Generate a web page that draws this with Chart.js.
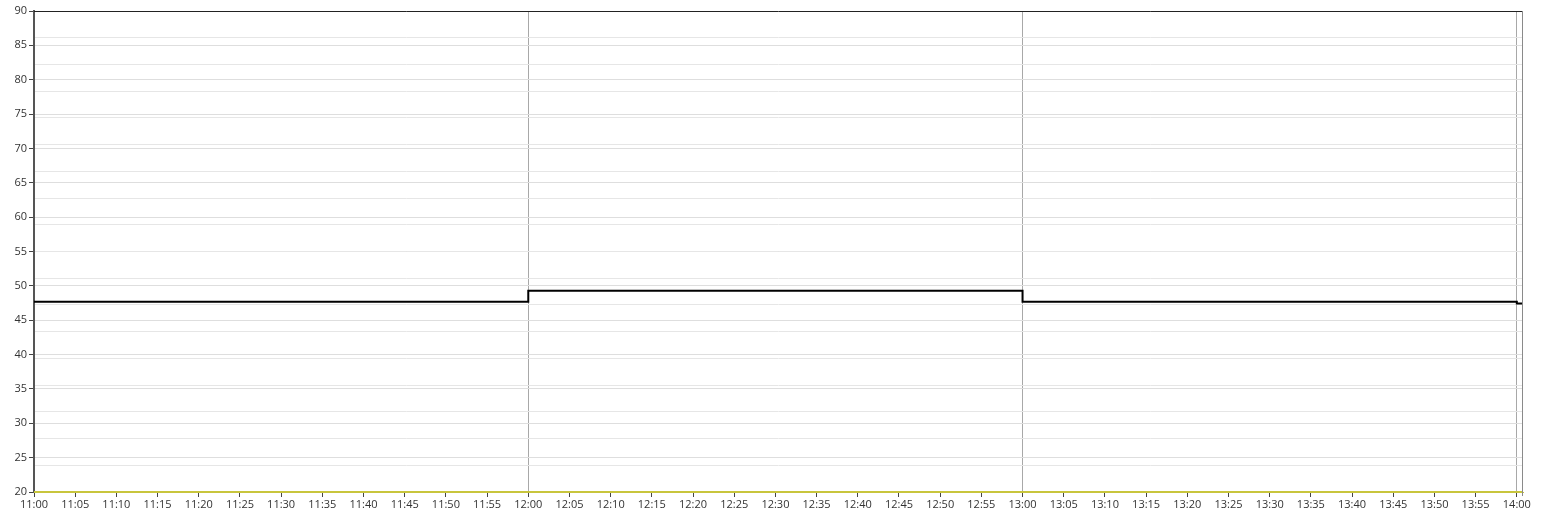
<!DOCTYPE html>
<html>
<head>
<meta charset="utf-8">
<script src="https://cdn.jsdelivr.net/npm/chart.js@4/dist/chart.umd.min.js"></script>
<style>
  html, body { margin: 0; padding: 0; background: #ffffff; }
  #wrap { width: 1543px; height: 516px; position: relative; }
</style>
</head>
<body>
<div id="wrap"><canvas id="c" width="1543" height="516"></canvas></div>
<script>
// ---- Data (minutes after 11:00) ----
const stepTimes = [0, 60, 120, 180, 180.75];
const stepValues = [47.7, 49.3, 47.7, 47.45, 47.45];
const baseTimes = [0, 180.75];
const baseValues = [20, 20];
const tickLabels = [
  "11:00","11:05","11:10","11:15","11:20","11:25","11:30","11:35","11:40","11:45","11:50","11:55",
  "12:00","12:05","12:10","12:15","12:20","12:25","12:30","12:35","12:40","12:45","12:50","12:55",
  "13:00","13:05","13:10","13:15","13:20","13:25","13:30","13:35","13:40","13:45","13:50","13:55",
  "14:00"
];
const yTicks = [20, 25, 30, 35, 40, 45, 50, 55, 60, 65, 70, 75, 80, 85, 90];
const xMax = 180.75;

const borderPlugin = {
  id: 'frame',
  afterDatasetsDraw(chart) {
    const a = chart.chartArea, ctx = chart.ctx;
    ctx.save();
    ctx.lineWidth = 1;
    ctx.strokeStyle = '#222222';
    ctx.beginPath(); ctx.moveTo(a.left, a.top + 0.5); ctx.lineTo(a.right, a.top + 0.5); ctx.stroke();
    ctx.strokeStyle = '#8a8a8a';
    ctx.beginPath(); ctx.moveTo(a.right - 0.5, a.top); ctx.lineTo(a.right - 0.5, a.bottom + 4); ctx.stroke();
    ctx.restore();
  }
};

new Chart(document.getElementById('c'), {
  type: 'line',
  data: {
    datasets: [
      {
        label: 'base',
        data: baseTimes.map((t, i) => ({ x: t, y: baseValues[i] })),
        borderColor: '#c8c53c',
        borderWidth: 2,
        pointRadius: 0,
        fill: false,
        clip: 4
      },
      {
        label: 'value',
        data: stepTimes.map((t, i) => ({ x: t, y: stepValues[i] })),
        borderColor: '#000000',
        borderWidth: 2,
        pointRadius: 0,
        stepped: true,
        fill: false
      }
    ]
  },
  options: {
    responsive: false,
    animation: false,
    devicePixelRatio: 1,
    layout: { padding: { top: 11, right: 20, left: 0, bottom: 0 } },
    plugins: { legend: { display: false }, tooltip: { enabled: false } },
    scales: {
      x: {
        type: 'linear',
        min: 0,
        max: xMax,
        afterBuildTicks(scale) {
          scale.ticks = tickLabels.map((l, i) => ({ value: i * 5, label: l }));
        },
        afterFit(scale) { scale.height = 24; },
        ticks: {
          autoSkip: false,
          maxRotation: 0,
          padding: 1,
          color: '#333333',
          font: { family: '"Open Sans", "Noto Sans", sans-serif', size: 11 },
          callback(v, i) { return tickLabels[i]; }
        },
        grid: {
          color(ctx) {
            const v = ctx.tick && ctx.tick.value;
            return (v === 60 || v === 120 || v === 180) ? '#a8a8a8' : 'rgba(0,0,0,0)';
          },
          tickColor: '#444444',
          tickLength: 5,
          lineWidth: 1
        },
        border: { color: '#c8c53c', width: 1 }
      },
      y: {
        min: 20,
        max: 90,
        afterBuildTicks(scale) {
          scale.ticks = yTicks.map(v => ({ value: v }));
        },
        afterFit(scale) { scale.width = 34; },
        ticks: {
          padding: 2,
          color: '#333333',
          font: { family: '"Open Sans", "Noto Sans", sans-serif', size: 11 }
        },
        grid: {
          color: '#dedede',
          tickColor: '#444444',
          tickLength: 5,
          lineWidth: 1
        },
        border: { color: '#555555', width: 2 }
      },
      y2: {
        position: 'right',
        min: 0,
        max: 18,
        ticks: { display: false, stepSize: 1 },
        grid: { color: '#e6e6e6', drawTicks: false, lineWidth: 1 },
        border: { display: false },
        afterFit(scale) { scale.width = 0; }
      }
    }
  },
  plugins: [borderPlugin]
});
</script>
</body>
</html>
